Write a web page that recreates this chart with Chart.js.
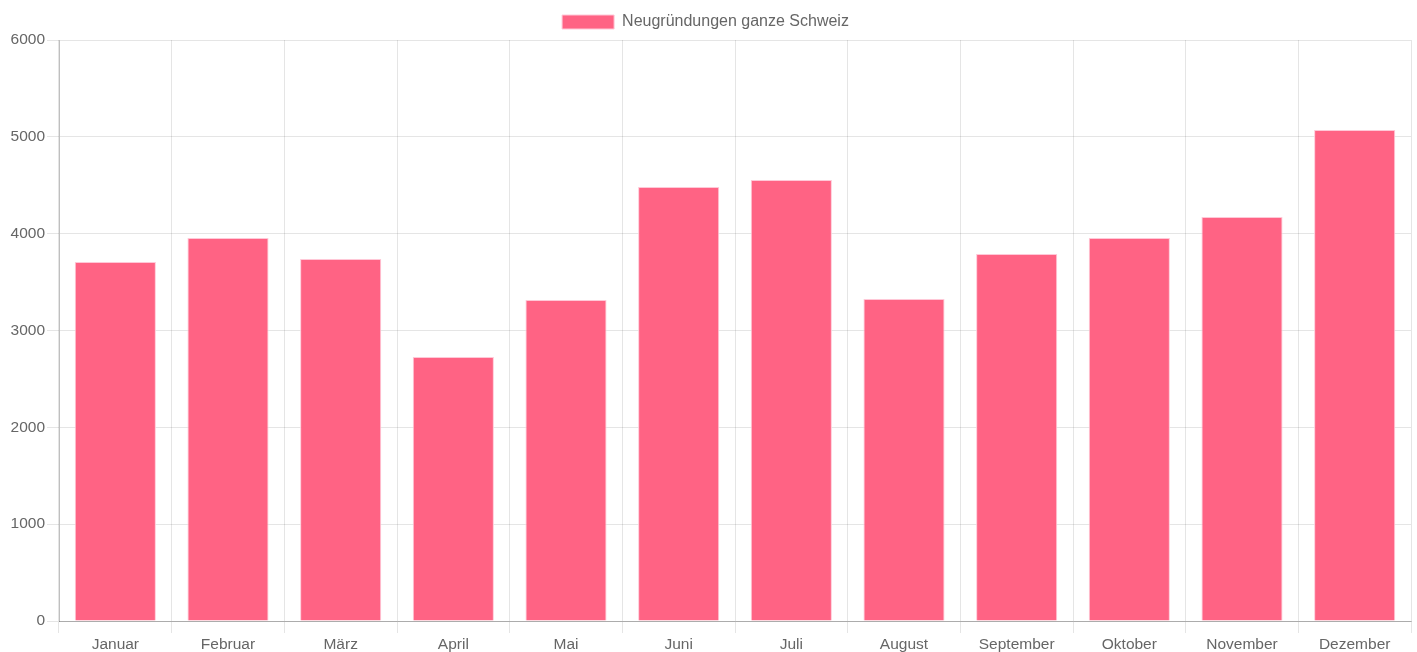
<!DOCTYPE html>
<html><head><meta charset="utf-8">
<script src="https://cdn.jsdelivr.net/npm/chart.js@4"></script>
<style>html,body{margin:0;padding:0;background:#fff}#wrap{width:1417px;height:652px}</style>
</head><body><div id="wrap"><canvas id="c" width="1417" height="652"></canvas></div>
<script>
const categories = ["Januar","Februar","März","April","Mai","Juni","Juli","August","September","Oktober","November","Dezember"];
const seriesLabel = "Neugründungen ganze Schweiz";
const values = [3707, 3955, 3738, 2726, 3315, 4482, 4554, 3325, 3790, 3955, 4172, 5071];
const yTicks = [0, 1000, 2000, 3000, 4000, 5000, 6000];

Chart.defaults.font.family = "'Liberation Sans', Arial, Helvetica, sans-serif";
Chart.defaults.color = '#666';
new Chart(document.getElementById('c'), {
  type: 'bar',
  data: {
    labels: categories,
    datasets: [{
      label: seriesLabel,
      data: values,
      backgroundColor: 'rgb(255,99,132)',
      borderColor: 'rgba(255,200,215,1)',
      borderWidth: 1
    }]
  },
  options: {
    responsive: false,
    animation: false,
    layout: { padding: { left: 0, right: 6, top: 1, bottom: 0 } },
    plugins: {
      legend: {
        labels: { boxWidth: 52, boxHeight: 14, font: { size: 16 }, padding: 13 }
      },
      tooltip: { enabled: false }
    },
    scales: {
      x: {
        afterFit: (ax) => { ax.height = 31; },
        grid: { color: 'rgba(0,0,0,0.1)', offset: true, tickLength: 12 },
        border: { color: 'rgba(0,0,0,0.25)' },
        ticks: { font: { size: 15.5 }, padding: 2 }
      },
      y: {
        min: 0, max: 6000,
        afterBuildTicks: (ax) => { ax.ticks = yTicks.map(v => ({ value: v })); },
        afterFit: (ax) => { ax.width = 59; },
        grid: { color: 'rgba(0,0,0,0.1)', tickLength: 12 },
        border: { color: 'rgba(0,0,0,0.25)' },
        ticks: { font: { size: 15.5 }, padding: 2, callback: (v) => String(v) }
      }
    }
  }
});
</script></body></html>
